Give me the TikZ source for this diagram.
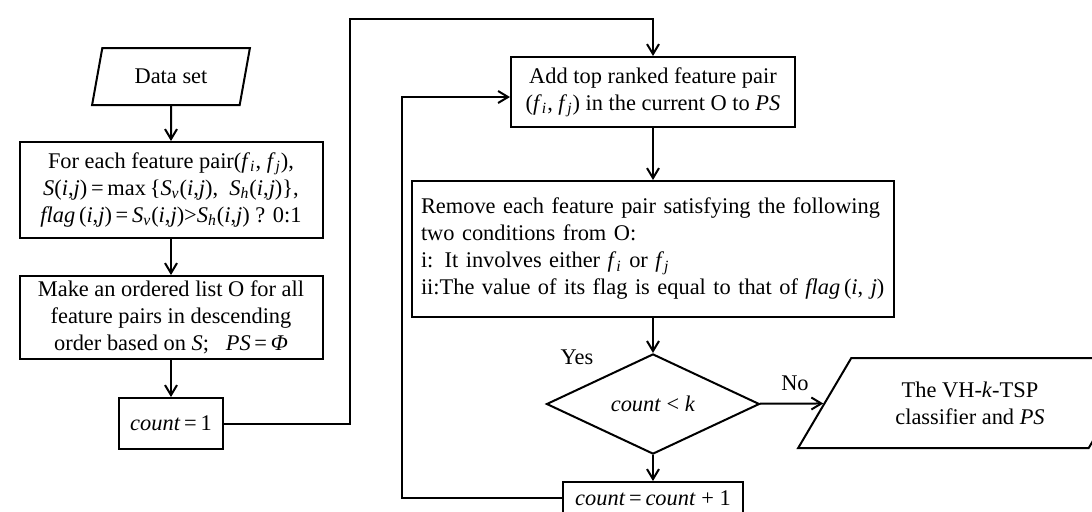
\documentclass[tikz,border=0pt]{standalone}
\usepackage{fontspec}
\setmainfont{Liberation Serif}
\newfontfamily\tightserif{Liberation Serif}[WordSpace=0.7]
\usetikzlibrary{shapes.geometric,arrows.meta,calc}
\newcommand{\vi}[1]{\textit{#1}}
\newcommand{\fsub}[2]{\textit{#1}\textsubscript{\textit{#2}}}
\begin{document}
\begin{tikzpicture}[x=0.5pt,y=-0.5pt,
  every node/.style={font=\fontsize{11.2}{13.5}\selectfont},
  box/.style={draw,line width=1pt,rectangle,inner sep=0pt,align=center},
  para/.style={draw,line width=1pt,trapezium,trapezium stretches=true,inner sep=0pt,align=center},
  arr/.style={line width=1pt,-{Straight Barb[length=5pt,width=6pt]}},
  ln/.style={line width=1pt}]
\useasboundingbox (0,0) rectangle (1092,511);
% left column
\node[para,trapezium left angle=70,trapezium right angle=110,minimum width=79pt,minimum height=28.5pt] (ds) at (171,76.5) {Data set};
\node[box,minimum width=151.5pt,minimum height=48pt] (box1) at (171,190) {For each feature pair(\fsub{f}{i}, \fsub{f}{j}),\\
\vi{S}(\vi{i},\vi{j})\,=\,max\,\{\fsub{S}{v}(\vi{i},\vi{j}),\ \ \fsub{S}{h}(\vi{i},\vi{j})\},\\
\vi{flag}\,(\vi{i},\vi{j})\,=\,\fsub{S}{v}(\vi{i},\vi{j})>\fsub{S}{h}(\vi{i},\vi{j}) ? 0:1};
\node[box,minimum width=151.5pt,minimum height=41.5pt] (box2) at (171,317.5) {Make an ordered list O for all\\feature pairs in descending\\order based on \vi{S};\ \ \ \vi{PS}\,=\,\vi{Φ}};
\node[box,minimum width=52pt,minimum height=25.5pt] (c1) at (171,423.5) {\vi{count}\,=\,1};
% right column
\node[box,minimum width=142pt,minimum height=35pt] (add) at (653,92) {Add top ranked feature pair\\(\fsub{f}{i}, \fsub{f}{j}) in the current O to \vi{PS}};
\node[box,minimum width=240pt,minimum height=68pt,align=left,text width=232pt,inner xsep=4.5pt,font=\fontsize{11.2}{13.5}\tightserif] (rem) at (653,249) {Remove each feature pair satisfying the following\\two conditions from O:\\i: It involves either \fsub{f}{i} or \fsub{f}{j}\\ii:The value of its flag is equal to that of \vi{flag}\,(\vi{i}, \vi{j})};
\node[draw,line width=1pt,diamond,inner sep=0pt,minimum width=106.5pt,minimum height=32pt] (dia) at (653,404) {\vi{count} < \vi{k}};
\node[box,minimum width=90pt,minimum height=16pt] (c2) at (653,498) {\vi{count}\,=\,\vi{count} + 1};
\node[para,trapezium left angle=52,trapezium right angle=128,minimum width=172pt,minimum height=45pt] (out) at (970,403) {The VH-\vi{k}-TSP\\classifier and \vi{PS}};
% labels
\node (yes) at (577,357) {Yes};
\node (no) at (795,383) {No};
% connectors
\coordinate (t1) at (350,19);
\coordinate (t2) at (402,97);
\draw[arr] (ds) -- (box1);
\draw[arr] (box1) -- (box2);
\draw[arr] (box2) -- (c1);
\draw[arr] (c1.east) -| (t1) -| (add.north);
\draw[arr] (add) -- (rem);
\draw[arr] (rem) -- (dia);
\draw[arr] (dia) -- (c2);
\draw[arr] (dia) -- (out);
\draw[arr] (c2.west) -| (t2) -- (t2 -| add.west);
\end{tikzpicture}
\end{document}
